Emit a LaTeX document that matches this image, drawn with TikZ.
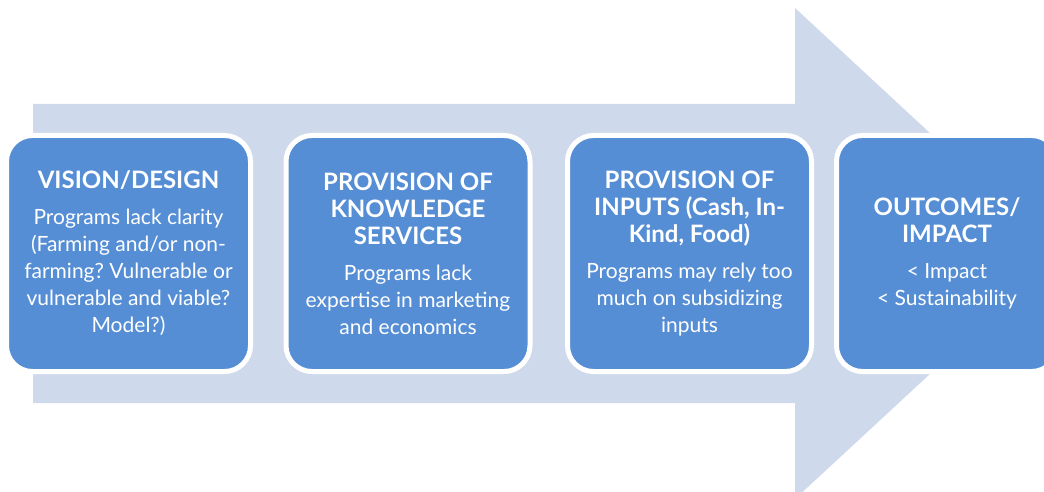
\documentclass[tikz,border=0pt]{standalone}
\usepackage{fontspec}
\setmainfont{Lato}
\usepackage{tikz}
\frenchspacing
\definecolor{arrowblue}{HTML}{CFD9EC}
\definecolor{boxblue}{HTML}{558ED5}
\newcommand{\hd}[1]{{\bfseries\fontsize{24}{27}\selectfont #1}}

\begin{document}
\begin{tikzpicture}[x=1pt,y=-1pt,
  stage/.style={rounded corners=26pt,draw=white,line width=5pt,fill=boxblue,
    text=white,minimum width=244pt,minimum height=236pt,inner sep=0pt,
    align=center,font=\fontsize{21}{27}\selectfont}]

\useasboundingbox (0,0) rectangle (1044,492);
\clip (0,0) rectangle (1044,492);

% big arrow behind the stages
\fill [arrowblue] (33,104) -- (795,104) -- (795,8) -- (1060,253.5)
  -- (795,499) -- (795,403) -- (33,403) -- cycle;

\node [stage] (vision) at (128.5,253.5)
  {\hd{VISION/DESIGN}\\[9pt]
   Programs lack clarity\\ (Farming and/or non-\\ farming? Vulnerable or\\
   vulnerable and viable?\\ Model?)};
\node [stage] (knowledge) at (408,253.5)
  {\hd{PROVISION OF}\\ \hd{KNOWLEDGE}\\ \hd{SERVICES}\\[9pt]
   Programs lack\\ expertise in marketing\\ and economics};
\node [stage] (inputs) at (689.5,253.5)
  {\hd{PROVISION OF}\\ \hd{INPUTS (Cash, In-}\\ \hd{Kind, Food)}\\[9pt]
   Programs may rely too\\ much on subsidizing\\ inputs};
\node [stage,minimum width=221pt] (outcomes) at (947,253.5)
  {\hd{OUTCOMES/}\\ \hd{IMPACT}\\[9pt]
   < Impact\\ < Sustainability};

\end{tikzpicture}
\end{document}
